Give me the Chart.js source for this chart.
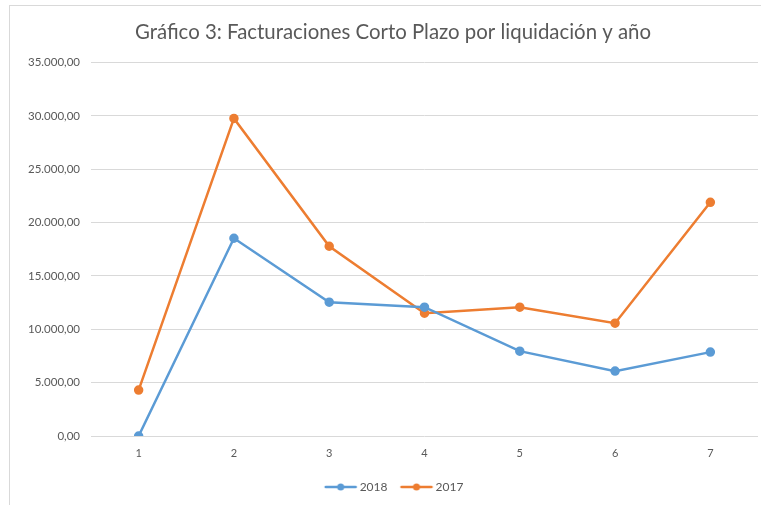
<!DOCTYPE html>
<html>
<head>
<meta charset="utf-8">
<script src="https://cdn.jsdelivr.net/npm/chart.js@4"></script>
<style>
  html, body { margin: 0; padding: 0; background: #fff; overflow: hidden; }
  #wrap { position: relative; width: 761px; height: 505px; }
</style>
</head>
<body>
<div id="wrap"><canvas id="grafico"></canvas></div>
<script>
const Liquidaciones = ['1', '2', '3', '4', '5', '6', '7'];
const Fact2018 = [0, 18530, 12540, 12070, 7950, 6080, 7860];
const Fact2017 = [4300, 29760, 17780, 11510, 12070, 10570, 21900];
const Titulo = 'Gráfico 3: Facturaciones Corto Plazo por liquidación y año';

const colorTexto = '#595959';
const colorGrid = '#d9d9d9';

// formato 35.000,00
function formatoEs(v) {
  const partes = Math.abs(v).toFixed(2).split('.');
  partes[0] = partes[0].replace(/\B(?=(\d{3})+(?!\d))/g, '.');
  return (v < 0 ? '-' : '') + partes[0] + ',' + partes[1];
}

// icono de leyenda: linea con punto, como en Excel
function iconoLeyenda(color) {
  const c = document.createElement('canvas');
  c.width = 40; c.height = 10;
  const g = c.getContext('2d');
  g.strokeStyle = color; g.lineWidth = 2.5; g.lineCap = 'round';
  g.beginPath(); g.moveTo(8, 5); g.lineTo(38, 5); g.stroke();
  g.fillStyle = color;
  g.beginPath(); g.arc(23, 5, 3.5, 0, Math.PI * 2); g.fill();
  return c;
}

const marco = {
  id: 'marco',
  afterLayout(chart) {
    // titulo y leyenda centrados en el marco, no en el canvas
    if (chart.titleBlock) {
      chart.titleBlock.left += 28;
      chart.titleBlock.top += 2;
    }
    if (chart.legend) {
      chart.legend.left += 27;
    }
  },
  beforeDraw(chart) {
    const ctx = chart.ctx;
    ctx.save();
    ctx.strokeStyle = colorGrid;
    ctx.lineWidth = 1;
    ctx.strokeRect(9.5, 5.5, 800, 600);
    ctx.restore();
  }
};

const ctx = document.getElementById('grafico').getContext('2d');
const chart = new Chart(ctx, {
  type: 'line',
  data: {
    labels: Liquidaciones,
    datasets: [{
      label: '2018',
      data: Fact2018,
      borderColor: '#5B9BD5',
      backgroundColor: '#5B9BD5',
      borderWidth: 2.5,
      pointRadius: 3.5,
      pointStyle: 'circle',
      tension: 0
    }, {
      label: '2017',
      data: Fact2017,
      borderColor: '#ED7D31',
      backgroundColor: '#ED7D31',
      borderWidth: 2.5,
      pointRadius: 3.5,
      pointStyle: 'circle',
      tension: 0
    }]
  },
  options: {
    responsive: true,
    maintainAspectRatio: false,
    animation: false,
    layout: { autoPadding: false, padding: { left: 0, right: 3, top: 0, bottom: 2 } },
    scales: {
      x: {
        offset: true,
        grid: { display: false },
        border: { display: false },
        ticks: { color: colorTexto, font: { family: 'Lato', size: 11 }, padding: 3 },
        afterFit(scale) { scale.height = 35; }
      },
      y: {
        min: 0,
        max: 35000,
        ticks: {
          stepSize: 5000,
          color: colorTexto,
          font: { family: 'Lato', size: 11.5 },
          padding: 11,
          callback: (v) => formatoEs(v)
        },
        grid: { color: colorGrid, lineWidth: 1, drawTicks: false },
        border: { display: false },
        afterFit(scale) { scale.width = 91; }
      }
    },
    plugins: {
      title: {
        display: true,
        text: Titulo,
        color: colorTexto,
        font: { family: 'Lato', size: 20.4, weight: 'normal' },
        padding: { top: 18, bottom: 20 }
      },
      legend: {
        position: 'bottom',
        labels: {
          color: colorTexto,
          font: { family: 'Lato', size: 12 },
          usePointStyle: true,
          pointStyleWidth: 32,
          boxHeight: 10,
          padding: 10,
          generateLabels(chart) {
            return chart.data.datasets.map((ds, i) => ({
              text: ds.label,
              fontColor: colorTexto,
              pointStyle: iconoLeyenda(ds.borderColor),
              hidden: false,
              lineWidth: 0,
              datasetIndex: i
            }));
          }
        }
      },
      tooltip: { enabled: false }
    }
  },
  plugins: [marco]
});
</script>
</body>
</html>
